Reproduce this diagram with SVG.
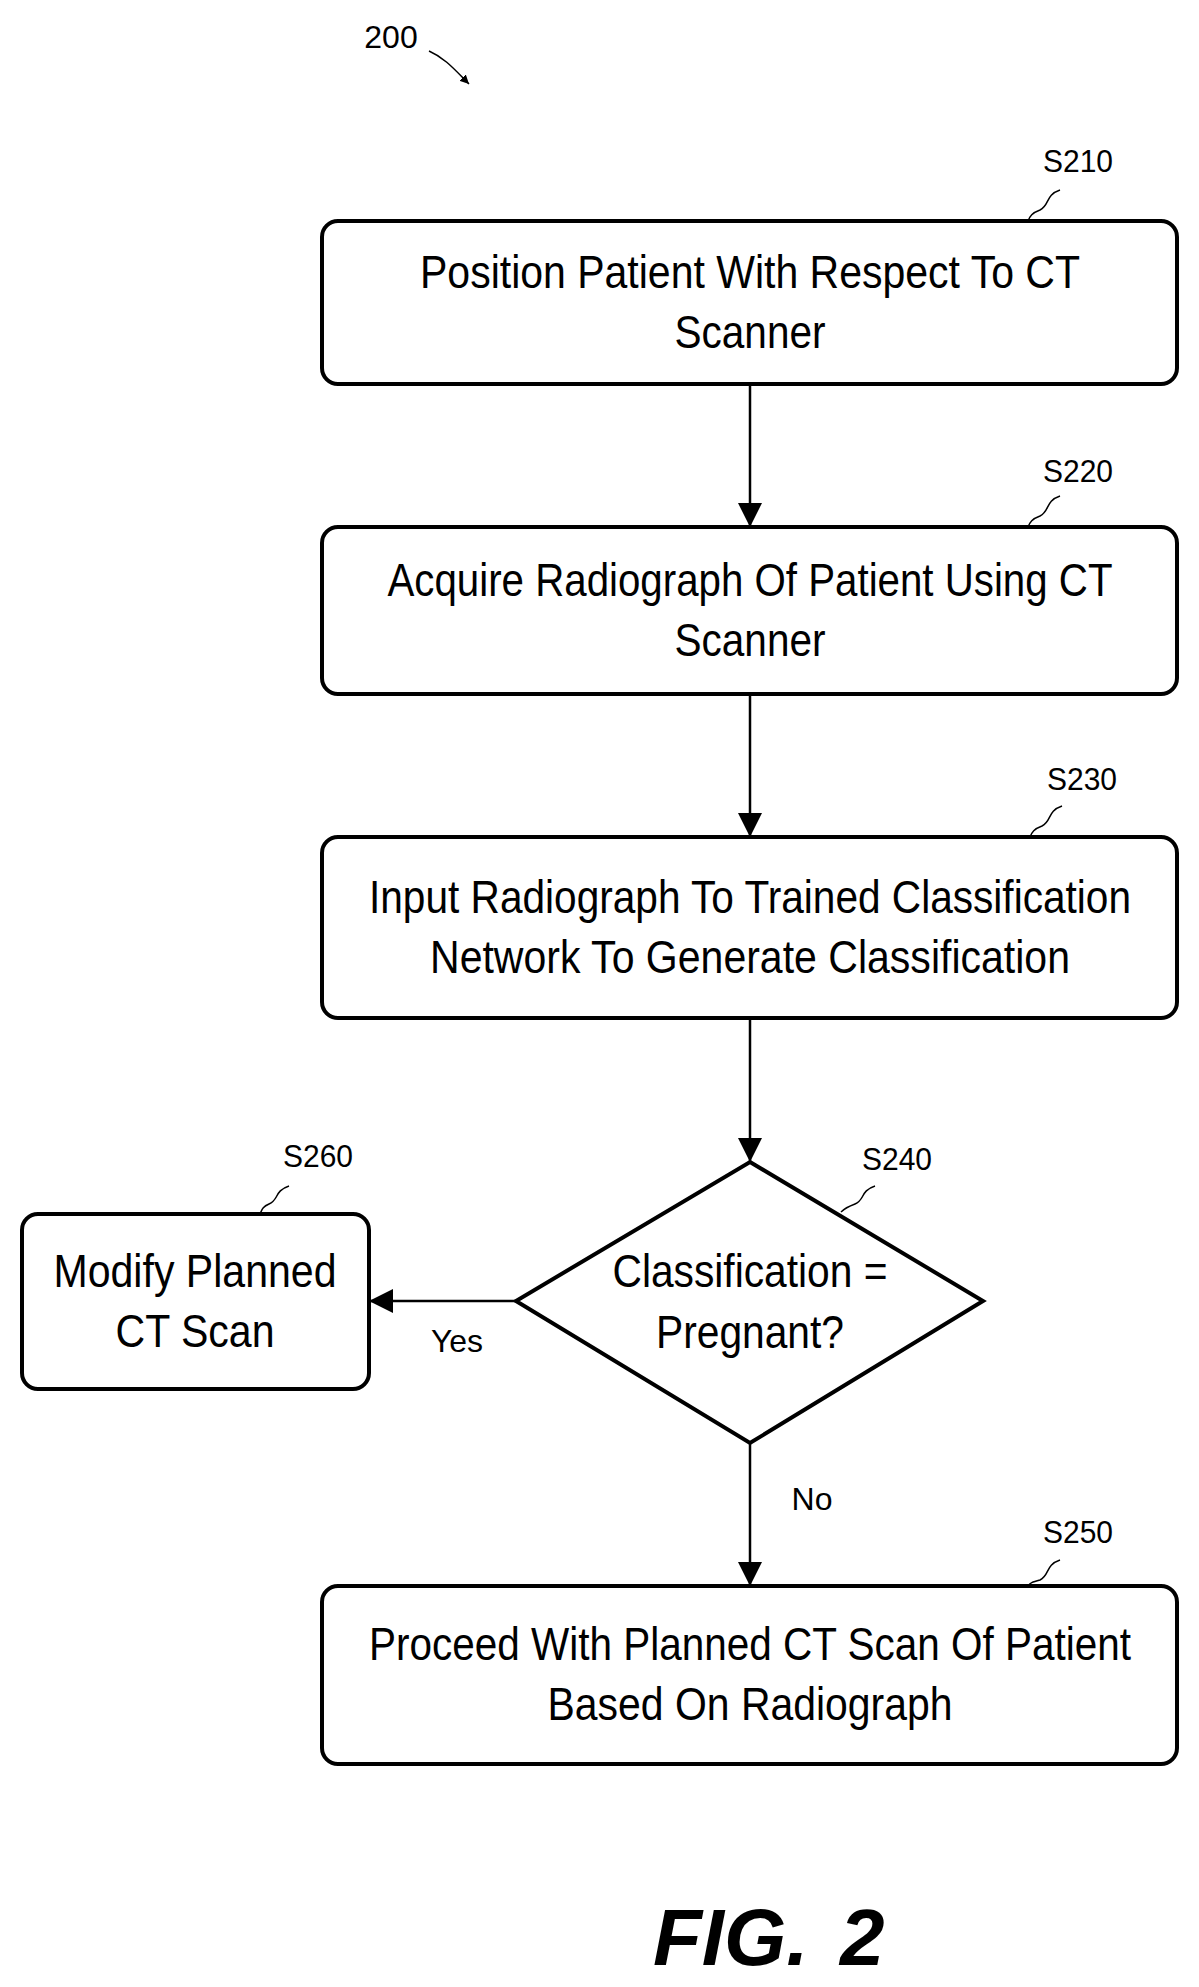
<svg xmlns="http://www.w3.org/2000/svg" width="1199" height="1987" viewBox="0 0 1199 1987">
<style>
.b{fill:#fff;stroke:#000;stroke-width:4}
.t{font-family:"Liberation Sans",Arial,sans-serif;font-size:46px;text-anchor:middle}
.l{font-family:"Liberation Sans",Arial,sans-serif;font-size:32px;text-anchor:middle}
.c{fill:none;stroke:#000;stroke-width:2.5}
.lead{fill:none;stroke:#000;stroke-width:1.5}
.f{font-family:"Liberation Sans",Arial,sans-serif;font-size:80px;font-weight:bold;font-style:italic}
</style>
<defs><marker id="a" viewBox="0 0 10 10" refX="10" refY="5" markerWidth="9" markerHeight="9" markerUnits="userSpaceOnUse" orient="auto"><path d="M0,0L10,5L0,10z"/></marker>
<marker id="A" viewBox="0 0 10 10" refX="10" refY="5" markerWidth="24" markerHeight="24" markerUnits="userSpaceOnUse" orient="auto"><path d="M0,0L10,5L0,10z"/></marker></defs>
<rect width="1199" height="1987" fill="#fff"/>
<g id="ref200"><text class="l" x="391" y="48">200</text><path class="lead" d="M429,51 C445,58 455,70 469,84" marker-end="url(#a)"/></g>
<g id="connectors">
<line class="c" x1="750" y1="384" x2="750" y2="527" marker-end="url(#A)"/>
<line class="c" x1="750" y1="694" x2="750" y2="837" marker-end="url(#A)"/>
<line class="c" x1="750" y1="1018" x2="750" y2="1162" marker-end="url(#A)"/>
<line class="c" x1="516" y1="1301" x2="369" y2="1301" marker-end="url(#A)"/>
<line class="c" x1="750" y1="1443" x2="750" y2="1586" marker-end="url(#A)"/>
<text class="l" x="457" y="1352">Yes</text>
<text class="l" x="812" y="1510">No</text>
</g>
<g id="S210"><rect class="b" x="322" y="221" width="855" height="163" rx="16"/>
<text class="t" x="750" y="288" textLength="660" lengthAdjust="spacingAndGlyphs">Position Patient With Respect To CT</text>
<text class="t" x="750" y="348" textLength="151" lengthAdjust="spacingAndGlyphs">Scanner</text>
<text class="l" x="1078" y="172" textLength="70" lengthAdjust="spacingAndGlyphs">S210</text>
<path class="lead" d="M1060,190 C1045,195 1050,205 1040,210 C1032,213 1030,216 1028,221"/></g>
<g id="S220"><rect class="b" x="322" y="527" width="855" height="167" rx="16"/>
<text class="t" x="750" y="596" textLength="725" lengthAdjust="spacingAndGlyphs">Acquire Radiograph Of Patient Using CT</text>
<text class="t" x="750" y="656" textLength="151" lengthAdjust="spacingAndGlyphs">Scanner</text>
<text class="l" x="1078" y="482" textLength="70" lengthAdjust="spacingAndGlyphs">S220</text>
<path class="lead" d="M1060,496 C1045,501 1050,511 1040,516 C1032,519 1030,522 1028,527"/></g>
<g id="S230"><rect class="b" x="322" y="837" width="855" height="181" rx="16"/>
<text class="t" x="750" y="913" textLength="762" lengthAdjust="spacingAndGlyphs">Input Radiograph To Trained Classification</text>
<text class="t" x="750" y="973" textLength="640" lengthAdjust="spacingAndGlyphs">Network To Generate Classification</text>
<text class="l" x="1082" y="790" textLength="70" lengthAdjust="spacingAndGlyphs">S230</text>
<path class="lead" d="M1062,806 C1047,811 1052,821 1042,826 C1034,829 1032,832 1030,837"/></g>
<g id="S240"><path class="b" d="M750,1162 L983,1301 L750,1443 L516,1301 Z"/>
<text class="t" x="750" y="1287" textLength="275" lengthAdjust="spacingAndGlyphs">Classification =</text>
<text class="t" x="750" y="1348" textLength="188" lengthAdjust="spacingAndGlyphs">Pregnant?</text>
<text class="l" x="897" y="1170" textLength="70" lengthAdjust="spacingAndGlyphs">S240</text>
<path class="lead" d="M875,1186 C860,1191 865,1200 855,1204 C847,1207 844,1209 841,1212"/></g>
<g id="S260"><rect class="b" x="22" y="1214" width="347" height="175" rx="16"/>
<text class="t" x="195" y="1287" textLength="283" lengthAdjust="spacingAndGlyphs">Modify Planned</text>
<text class="t" x="195" y="1347" textLength="159" lengthAdjust="spacingAndGlyphs">CT Scan</text>
<text class="l" x="318" y="1167" textLength="70" lengthAdjust="spacingAndGlyphs">S260</text>
<path class="lead" d="M289,1186 C274,1191 279,1200 269,1204 C262,1207 262,1210 260,1214"/></g>
<g id="S250"><rect class="b" x="322" y="1586" width="855" height="178" rx="16"/>
<text class="t" x="750" y="1660" textLength="762" lengthAdjust="spacingAndGlyphs">Proceed With Planned CT Scan Of Patient</text>
<text class="t" x="750" y="1720" textLength="405" lengthAdjust="spacingAndGlyphs">Based On Radiograph</text>
<text class="l" x="1078" y="1543" textLength="70" lengthAdjust="spacingAndGlyphs">S250</text>
<path class="lead" d="M1060,1560 C1045,1565 1050,1575 1040,1580 C1032,1582 1030,1583 1028,1586"/></g>
<g id="fig"><text class="f" x="653" y="1965">FIG.</text><text class="f" x="840" y="1965">2</text></g>
</svg>
